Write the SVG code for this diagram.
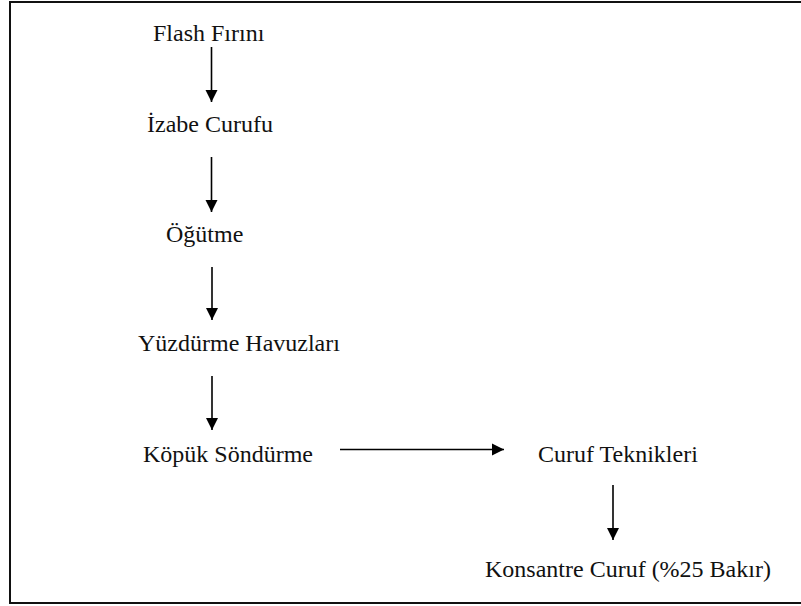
<svg xmlns="http://www.w3.org/2000/svg" width="801" height="606" viewBox="0 0 801 606">
<style>
.t{font-family:"Liberation Serif","Times New Roman",serif;font-size:24px;fill:#111;}
.c{stroke:#000;stroke-width:1.6;fill:none;}
</style>
<defs>
<marker id="ah" markerUnits="userSpaceOnUse" markerWidth="12" markerHeight="14" refX="12" refY="6" orient="auto" viewBox="0 0 12 12">
<path d="M0,0 L12,6 L0,12 Z" fill="#000"/>
</marker>
</defs>
<rect width="801" height="606" fill="#fff"/>
<path d="M801,2 H10 V603 H801" fill="none" stroke="#111" stroke-width="2"/>
<g id="connectors">
<line class="c" x1="211.5" y1="47" x2="211.5" y2="102" marker-end="url(#ah)"/>
<line class="c" x1="211.5" y1="157" x2="211.5" y2="212" marker-end="url(#ah)"/>
<line class="c" x1="212" y1="267" x2="212" y2="320" marker-end="url(#ah)"/>
<line class="c" x1="212" y1="376" x2="212" y2="430" marker-end="url(#ah)"/>
<line class="c" x1="340" y1="449.5" x2="504" y2="449.5" marker-end="url(#ah)"/>
<line class="c" x1="613" y1="485" x2="613" y2="540" marker-end="url(#ah)"/>
</g>
<g id="n1"><text class="t" x="153" y="41">Flash Fırını</text></g>
<g id="n2"><text class="t" x="147" y="131.5">İzabe Curufu</text></g>
<g id="n3"><text class="t" x="166" y="241.5">Öğütme</text></g>
<g id="n4"><text class="t" x="138" y="350.5">Yüzdürme Havuzları</text></g>
<g id="n5"><text class="t" x="143" y="462">Köpük Söndürme</text></g>
<g id="n6"><text class="t" x="538" y="461.5">Curuf Teknikleri</text></g>
<g id="n7"><text class="t" x="485" y="576.5">Konsantre Curuf (%25 Bakır)</text></g>
</svg>
